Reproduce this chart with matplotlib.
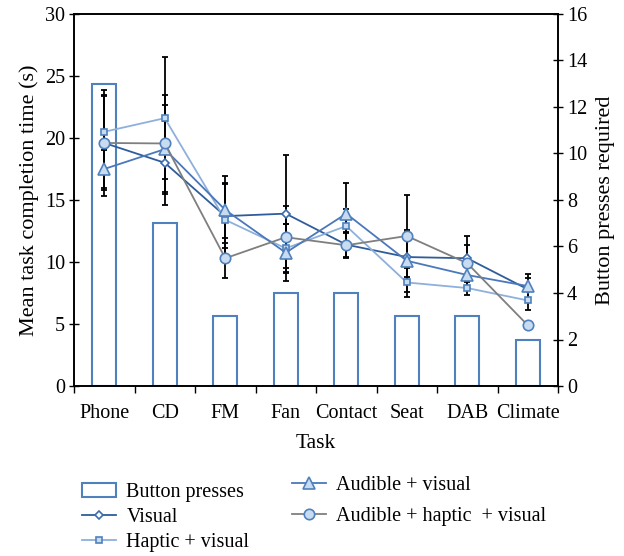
import matplotlib.pyplot as plt
import numpy as np
from matplotlib.patches import Patch

plt.rcParams['font.family'] = ['Liberation Serif', 'DejaVu Serif']
plt.rcParams['font.size'] = 14.5

tasks = ["Phone", "CD", "FM", "Fan", "Contact", "Seat", "DAB", "Climate"]
button_presses = [13, 7, 3, 4, 4, 3, 3, 2]

visual = [19.6, 18.0, 13.7, 13.9, 11.4, 10.4, 10.3, 7.8]
visual_err = [4.3, 3.4, 2.6, 4.7, 1.0, 2.0, 1.8, 0.9]

haptic = [20.5, 21.6, 13.4, 11.1, 12.9, 8.35, 7.9, 6.9]
haptic_err = [3.0, 4.9, 3.0, 2.0, 1.4, 1.2, 0.6, 0.8]

audible = [17.5, 19.1, 14.2, 10.75, 13.9, 10.1, 8.95, 8.06]
audible_err = [1.5, 3.6, 2.7, 2.3, 2.5, 2.5, 1.2, 1.0]

ahv = [19.6, 19.56, 10.3, 12.0, 11.35, 12.1, 9.9, 4.9]
ahv_err = [3.8, 3.9, 1.6, 2.5, 1.0, 3.3, 1.5, 0.0]

x = np.arange(len(tasks))

fig = plt.figure(figsize=(6.24, 5.56), dpi=100)
ax = fig.add_axes([74 / 624, 1 - 386 / 556, 484 / 624, 372 / 556])
ax2 = ax.twinx()
# bars behind the lines
ax2.set_zorder(ax.get_zorder() - 1)
ax.patch.set_visible(False)

ax2.bar(x, button_presses, width=0.4, facecolor='white', edgecolor='#4f81bd', linewidth=1.5)

series = [
    (visual, visual_err, '#2f5d9c', 'D', 'white', '#3a6db0', 4.5, 'Visual'),
    (haptic, haptic_err, '#8eb0dc', 's', '#c9dbf1', '#4f81bd', 5, 'Haptic + visual'),
    (audible, audible_err, '#4a78bb', '^', '#c9dbf1', '#4f81bd', 8, 'Audible + visual'),
    (ahv, ahv_err, '#7f7f7f', 'o', '#c9dbf1', '#4f81bd', 7.5, 'Audible + haptic  + visual'),
]

handles = {}
for vals, err, col, mk, mfc, mec, ms, lab in series:
    ax.errorbar(x, vals, yerr=err, fmt='none', ecolor='black', elinewidth=1.3,
                capsize=2.5, capthick=1.3, zorder=2)
for vals, err, col, mk, mfc, mec, ms, lab in series:
    ln, = ax.plot(x, vals, color=col, linewidth=1.3, marker=mk, markersize=ms,
                  markerfacecolor=mfc, markeredgecolor=mec, markeredgewidth=1.2,
                  label=lab, zorder=3)
    handles[lab] = ln

ax.set_xlim(-0.5, 7.5)
ax.set_ylim(0, 30)
ax2.set_ylim(0, 16)
ax.set_yticks(range(0, 31, 5))
ax2.set_yticks(range(0, 17, 2))

ax.set_xticks(np.arange(-0.5, 8, 1))
ax.set_xticklabels([])
ax.set_xticks(x, minor=True)
ax.set_xticklabels(tasks, minor=True)
ax.tick_params(axis='x', which='major', direction='out', length=5, width=1)
ax.tick_params(axis='x', which='minor', length=0, pad=13, labelsize=14.5)
ax.tick_params(axis='y', direction='inout', length=7, width=1, labelsize=14.5, pad=3)
ax2.tick_params(axis='y', direction='inout', length=7, width=1, labelsize=14.5, pad=3)

for a in (ax, ax2):
    for s in a.spines.values():
        s.set_linewidth(1.2)

ax.set_xlabel("Task", fontsize=15.5, labelpad=8)
ax.set_ylabel("Mean task completion time (s)", fontsize=16, labelpad=4)
ax2.set_ylabel("Button presses required", fontsize=16, labelpad=6)

bar_handle = Patch(facecolor='white', edgecolor='#4f81bd', linewidth=1.5)
leg1 = fig.legend([bar_handle, handles['Visual'], handles['Haptic + visual']],
                  ['Button presses', 'Visual', 'Haptic + visual'],
                  loc='upper left', bbox_to_anchor=(68 / 624, 1 - 469 / 556),
                  frameon=False, fontsize=14.5, handlelength=1.7, handletextpad=0.5,
                  labelspacing=0.3, borderpad=0.2)
leg2 = fig.legend([handles['Audible + visual'], handles['Audible + haptic  + visual']],
                  ['Audible + visual', 'Audible + haptic  + visual'],
                  loc='upper left', bbox_to_anchor=(278 / 624, 1 - 462 / 556),
                  frameon=False, fontsize=14.5, handlelength=1.7, handletextpad=0.5,
                  labelspacing=0.58, borderpad=0.2)

fig.savefig("out.png", dpi=100)
